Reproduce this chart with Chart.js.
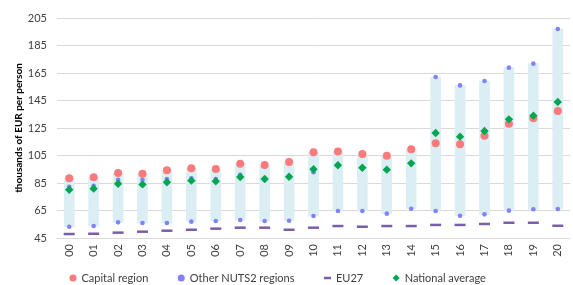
<!DOCTYPE html>
<html>
<head>
<meta charset="utf-8">
<script src="https://cdn.jsdelivr.net/npm/chart.js@4/dist/chart.umd.min.js"></script>
<style>
  html, body { margin: 0; padding: 0; overflow: hidden; background: #fff; }
  #wrap { width: 578px; height: 309px; }
</style>
</head>
<body>
<div id="wrap"><canvas id="c"></canvas></div>
<script>
// ---- data (thousands of EUR per person) ----
const years = ['00','01','02','03','04','05','06','07','08','09','10','11','12','13','14','15','16','17','18','19','20'];
const capitalRegion = [88.4, 89.1, 92.3, 91.8, 94.2, 95.7, 95.2, 99.0, 98.1, 100.3, 107.3, 108.0, 106.1, 104.9, 109.5, 113.9, 113.1, 119.3, 128.1, 132.1, 137.4];
const nationalAverage = [80.1, 80.9, 84.5, 84.0, 85.5, 86.7, 86.2, 89.4, 87.9, 89.6, 95.0, 97.9, 96.1, 94.7, 99.3, 121.4, 118.7, 122.8, 131.3, 134.0, 143.9];
const otherRegionsMax = [82.3, 83.0, 87.4, 87.4, 87.9, 88.4, 87.9, 91.0, 87.6, 89.3, 92.8, 97.5, 95.8, 94.4, 99.0, 162.1, 156.0, 159.2, 168.9, 171.8, 197.0];
const otherRegionsMin = [53.2, 53.7, 56.4, 55.9, 55.9, 56.9, 57.4, 58.1, 57.4, 57.6, 61.0, 64.6, 64.6, 62.7, 66.3, 64.6, 61.2, 62.2, 64.9, 65.9, 66.1];
const eu27 = [47.9, 48.1, 48.9, 49.6, 50.3, 51.0, 51.8, 52.5, 52.5, 51.0, 52.5, 53.7, 53.2, 53.7, 53.7, 54.5, 54.5, 55.2, 56.1, 56.1, 53.9];
const yTicks = [45, 65, 85, 105, 125, 145, 165, 185, 205];

// ---- derived structures for the library ----
const rangeBars = years.map((y, i) => [
  otherRegionsMin[i],
  Math.max(otherRegionsMax[i], capitalRegion[i])
]);
const otherPoints = years.map((y, i) => ({ x: y, y: otherRegionsMin[i] }))
  .concat(years.map((y, i) => ({ x: y, y: otherRegionsMax[i] })));

const FONT = 'Lato, "Open Sans", sans-serif';
const LEGEND_PAD = 30;
const LEGEND_X = 70;
const LEGEND_Y = 278;

const legendPlacer = {
  id: 'legendPlacer',
  afterLayout(chart) {
    const lg = chart.legend;
    if (!lg) return;
    lg.left = LEGEND_X - LEGEND_PAD;
    lg.top = LEGEND_Y - LEGEND_PAD - 5.5;
  }
};

const legendRank = { 1: 0, 2: 1, 3: 2, 0: 3 };

new Chart(document.getElementById('c'), {
  type: 'bar',
  data: {
    labels: years,
    datasets: [
      {
        type: 'line', label: 'National average', data: nationalAverage,
        showLine: false, pointStyle: 'rectRot', pointRadius: 4.2, pointHoverRadius: 4.2,
        pointBackgroundColor: '#00a650', pointBorderColor: '#00a650', pointBorderWidth: 0,
        backgroundColor: '#00a650', borderColor: '#00a650'
      },
      {
        type: 'line', label: 'Capital region', data: capitalRegion,
        showLine: false, pointStyle: 'circle', pointRadius: 4, pointHoverRadius: 4,
        pointBackgroundColor: '#fb7a7c', pointBorderColor: '#fb7a7c', pointBorderWidth: 0,
        backgroundColor: '#fb7a7c', borderColor: '#fb7a7c'
      },
      {
        type: 'line', label: 'Other NUTS2 regions', data: otherPoints,
        showLine: false, pointStyle: 'circle', pointRadius: 2.3, pointHoverRadius: 2.3,
        pointBackgroundColor: '#8282ff', pointBorderColor: '#8282ff', pointBorderWidth: 0,
        backgroundColor: '#8282ff', borderColor: '#8282ff'
      },
      {
        type: 'line', label: 'EU27', data: eu27,
        showLine: false, pointStyle: 'line', pointRadius: 5.5, pointHoverRadius: 5.5,
        pointBorderColor: '#7b5ea7', pointBackgroundColor: '#7b5ea7', pointBorderWidth: 2.5,
        borderColor: '#7b5ea7', backgroundColor: '#7b5ea7', borderWidth: 2.5
      },
      {
        type: 'bar', label: 'range', data: rangeBars,
        backgroundColor: '#daeef3', borderWidth: 0, barThickness: 10, borderSkipped: false
      }
    ]
  },
  options: {
    responsive: true,
    maintainAspectRatio: false,
    animation: false,
    layout: { padding: { left: 9, right: 0, top: 18, bottom: 0 } },
    plugins: {
      tooltip: { enabled: false },
      legend: {
        position: 'bottom',
        align: 'start',
        labels: {
          usePointStyle: true,
          boxWidth: 6,
          boxHeight: 5,
          padding: LEGEND_PAD,
          color: '#404040',
          font: { family: FONT, size: 11 },
          filter: (item) => item.text !== 'range',
          sort: (a, b) => legendRank[a.datasetIndex] - legendRank[b.datasetIndex]
        }
      }
    },
    scales: {
      x: {
        offset: true,
        grid: { display: false, drawTicks: false },
        border: { display: false },
        ticks: {
          color: '#404040', font: { family: FONT, size: 11 },
          minRotation: 90, maxRotation: 90, padding: 6, autoSkip: false
        },
        afterFit: (s) => { s.height = 20; }
      },
      y: {
        min: 45, max: 205,
        afterBuildTicks: (s) => { s.ticks = yTicks.map(v => ({ value: v })); },
        grid: { color: '#d9d9d9', lineWidth: 1, drawTicks: false },
        border: { display: false },
        ticks: { color: '#404040', font: { family: FONT, size: 11 }, padding: 10 },
        title: {
          display: true, text: 'thousands of EUR per person',
          color: '#000', font: { family: FONT, size: 10, weight: 'bold' },
          padding: { top: 4, bottom: 0 }
        },
        afterFit: (s) => { s.width = 48; }
      }
    }
  },
  plugins: [legendPlacer]
});
</script>
</body>
</html>
